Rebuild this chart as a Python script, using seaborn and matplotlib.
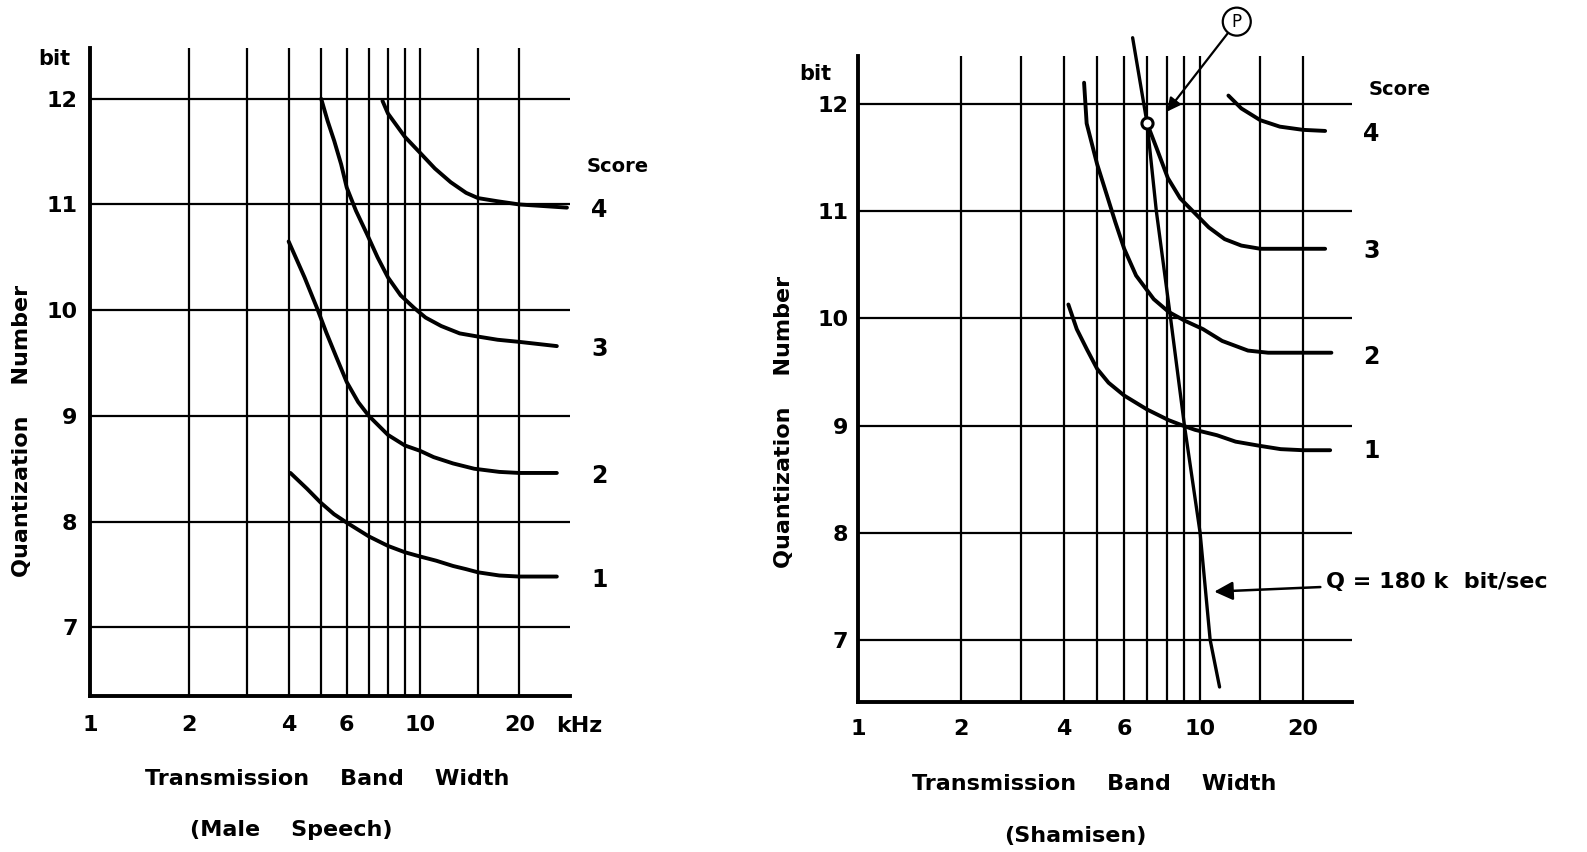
import numpy as np
import pandas as pd
import matplotlib
matplotlib.use("Agg")
import matplotlib.pyplot as plt
import seaborn as sns
from matplotlib.ticker import FixedLocator, FixedFormatter, NullLocator

# ---------------- data ----------------
# Left panel: Male Speech  (x = bandwidth kHz, y = quantization bits)
speech_s4_x = [7.7, 8.0, 9.0, 10.0, 11.1, 12.4, 13.8, 15.0, 17.2, 20.0, 27.9]
speech_s4_y = [11.98, 11.86, 11.64, 11.49, 11.34, 11.21, 11.11, 11.06, 11.03, 11.0, 10.97]
speech_s3_x = [5.02, 5.25, 5.5, 5.77, 6.0, 6.4, 6.91, 7.44, 8.0, 8.74, 9.61, 10.4, 11.6,
               13.2, 15.0, 17.2, 20.0, 26.0]
speech_s3_y = [12.0, 11.79, 11.6, 11.38, 11.16, 10.94, 10.72, 10.5, 10.31, 10.14, 10.02,
               9.93, 9.85, 9.78, 9.75, 9.72, 9.70, 9.66]
speech_s2_x = [4.0, 4.47, 4.89, 5.2, 5.59, 6.0, 6.5, 7.0, 8.0, 9.0, 10.0, 11.0, 12.6,
               14.6, 17.4, 20.0, 26.0]
speech_s2_y = [10.65, 10.31, 10.01, 9.79, 9.55, 9.32, 9.13, 9.0, 8.82, 8.72, 8.67, 8.61,
               8.55, 8.50, 8.47, 8.46, 8.46]
speech_s1_x = [4.05, 4.55, 5.0, 5.49, 6.0, 7.0, 8.0, 9.0, 10.0, 11.2, 12.6, 13.8, 15.0,
               17.4, 20.0, 26.0]
speech_s1_y = [8.46, 8.31, 8.18, 8.07, 7.99, 7.86, 7.77, 7.71, 7.67, 7.63, 7.58, 7.55, 7.52,
               7.49, 7.48, 7.48]

# Right panel: Shamisen
sham_s4_x = [12.1, 13.2, 15.0, 17.1, 20.0, 23.2]
sham_s4_y = [12.08, 11.96, 11.85, 11.79, 11.76, 11.75]
sham_s3_x = [7.0, 7.46, 8.05, 8.75, 9.6, 10.6, 11.8, 13.2, 15.0, 17.9, 23.2]
sham_s3_y = [11.82, 11.59, 11.31, 11.12, 10.99, 10.85, 10.74, 10.68, 10.65, 10.65, 10.65]
sham_s2_x = [4.58, 4.66, 5.0, 5.34, 5.65, 6.0, 6.5, 7.32, 8.1, 9.0, 10.2, 11.6, 13.8,
             15.8, 20.0, 24.2]
sham_s2_y = [12.20, 11.82, 11.44, 11.15, 10.90, 10.65, 10.40, 10.18, 10.06, 9.98, 9.90,
             9.79, 9.70, 9.68, 9.68, 9.68]
sham_s1_x = [4.12, 4.36, 4.67, 5.0, 5.4, 6.0, 7.0, 8.1, 8.9, 9.67, 11.2, 12.7, 15.0,
             17.2, 20.0, 24.0]
sham_s1_y = [10.13, 9.90, 9.71, 9.53, 9.40, 9.28, 9.15, 9.05, 9.0, 8.96, 8.91, 8.85,
             8.81, 8.78, 8.77, 8.77]

# Constant bit-rate line Q = 180 kbit/s (Shamisen panel)
q_line_x = [6.35, 7.0, 7.45, 8.2, 9.0, 10.0, 10.7, 11.4]
q_line_y = [12.62, 11.82, 11.0, 10.0, 9.0, 8.0, 7.0, 6.56]
point_p = (7.0, 11.82)

scores = [4, 3, 2, 1]
grid_x = [2, 3, 4, 5, 6, 7, 8, 9, 10, 15, 20]
grid_y = [7, 8, 9, 10, 11, 12]
tick_x = [1, 2, 4, 6, 10, 20]
tick_x_labels = ["1", "2", "4", "6", "10", "20"]
tick_y = [7, 8, 9, 10, 11, 12]
tick_y_labels = ["7", "8", "9", "10", "11", "12"]

# ---------------- style ----------------
sns.set_theme(style="white")
plt.rcParams["font.family"] = ["DejaVu Sans"]
plt.rcParams.update({"text.color": "black", "axes.labelcolor": "black",
                     "xtick.color": "black", "ytick.color": "black"})

fig = plt.figure(figsize=(15.87, 8.52), dpi=100)

W, H = 1587, 852
axL = fig.add_axes([90 / W, 1 - 696 / H, 480 / W, 648 / H])
axR = fig.add_axes([858 / W, 1 - 702 / H, 494 / W, (702 - 34.5) / H])


def frame(ax, xmax, ymin, ymax, vtop, xpad, ypad):
    ax.set_xscale("log")
    ax.set_xlim(1, xmax)
    ax.set_ylim(ymin, ymax)
    for s in ["top", "right"]:
        ax.spines[s].set_visible(False)
    for s in ["left", "bottom"]:
        ax.spines[s].set_color("black")
        ax.spines[s].set_linewidth(2.8)
    ax.spines["left"].set_bounds(ymin, vtop)
    ax.vlines(grid_x, ymin, vtop, color="black", lw=1.6, zorder=1)
    ax.hlines(grid_y, 1, xmax, color="black", lw=1.6, zorder=1)
    ax.xaxis.set_major_locator(FixedLocator(tick_x))
    ax.xaxis.set_major_formatter(FixedFormatter(tick_x_labels))
    ax.xaxis.set_minor_locator(NullLocator())
    ax.yaxis.set_major_locator(FixedLocator(tick_y))
    ax.yaxis.set_major_formatter(FixedFormatter(tick_y_labels))
    ax.tick_params(axis="x", length=0, pad=xpad, labelsize=16, colors="black")
    ax.tick_params(axis="y", length=0, pad=ypad, labelsize=16, colors="black")
    for lab in ax.get_xticklabels() + ax.get_yticklabels():
        lab.set_fontweight("bold")
    ax.grid(False)


def curves_df(xs, ys):
    rows = []
    for sc, x, y in zip(scores, xs, ys):
        for a, b in zip(x, y):
            rows.append({"bw": a, "bits": b, "score": sc})
    return pd.DataFrame(rows)


# ---------------- left panel ----------------
frame(axL, 28.5, 6.35, 12.48, 12.48, 14, 9)
dfL = curves_df([speech_s4_x, speech_s3_x, speech_s2_x, speech_s1_x],
                [speech_s4_y, speech_s3_y, speech_s2_y, speech_s1_y])
sns.lineplot(data=dfL, x="bw", y="bits", units="score", estimator=None, sort=False,
             color="black", lw=2.8, ax=axL, legend=False)
axL.set_xlabel("")
axL.set_ylabel("")
axL.text(32, 11.36, "Score", fontsize=14, fontweight="bold", ha="left", va="center", clip_on=False)
for sc, yv in zip(scores, [10.95, 9.63, 8.43, 7.45]):
    axL.text(33, yv, str(sc), fontsize=17, fontweight="bold", ha="left", va="center", clip_on=False)
axL.text(0.78, 12.38, "bit", fontsize=15, fontweight="bold", ha="center", va="center", clip_on=False)
axL.text(30.5, -0.046, "kHz", transform=axL.get_xaxis_transform(), fontsize=16,
         fontweight="bold", ha="center", va="center", clip_on=False)

# ---------------- right panel ----------------
frame(axR, 27.8, 6.42, 12.65, 12.45, 12, 7)
dfR = curves_df([sham_s4_x, sham_s3_x, sham_s2_x, sham_s1_x],
                [sham_s4_y, sham_s3_y, sham_s2_y, sham_s1_y])
sns.lineplot(data=dfR, x="bw", y="bits", units="score", estimator=None, sort=False,
             color="black", lw=2.8, ax=axR, legend=False)
sns.lineplot(x=q_line_x, y=q_line_y, sort=False, color="black", lw=2.4, ax=axR)
axR.set_xlabel("")
axR.set_ylabel("")
axR.plot([point_p[0]], [point_p[1]], "o", mfc="white", mec="black", ms=8, mew=2.2, zorder=5)
axR.annotate("P", xy=(8.0, 11.93), xytext=(12.8, 12.77), ha="center", va="center",
             fontsize=12, annotation_clip=False,
             bbox=dict(boxstyle="circle,pad=0.3", fc="white", ec="black", lw=1.6),
             arrowprops=dict(arrowstyle="-|>", color="black", lw=1.6, mutation_scale=20,
                             shrinkA=0, shrinkB=0))
axR.annotate("Q = 180 k  bit/sec", xy=(11.0, 7.45), xytext=(23.4, 7.54), ha="left",
             va="center", fontsize=16, fontweight="bold", annotation_clip=False,
             arrowprops=dict(arrowstyle="-|>", color="black", lw=1.8, mutation_scale=28,
                             shrinkA=2, shrinkB=0))
axR.text(31, 12.14, "Score", fontsize=14, fontweight="bold", ha="left", va="center", clip_on=False)
for sc, yv in zip(scores, [11.72, 10.63, 9.64, 8.76]):
    axR.text(30, yv, str(sc), fontsize=17, fontweight="bold", ha="left", va="center", clip_on=False)
axR.text(0.75, 12.28, "bit", fontsize=15, fontweight="bold", ha="center", va="center", clip_on=False)

# ---------------- axis titles ----------------
fig.text(327 / W, 1 - 779 / H, "Transmission    Band    Width", fontsize=16, fontweight="bold",
         ha="center", va="center")
fig.text(291 / W, 1 - 830 / H, "(Male    Speech)", fontsize=16, fontweight="bold",
         ha="center", va="center")
fig.text(1094 / W, 1 - 784 / H, "Transmission    Band    Width", fontsize=16, fontweight="bold",
         ha="center", va="center")
fig.text(1075 / W, 1 - 836 / H, "(Shamisen)", fontsize=16, fontweight="bold",
         ha="center", va="center")
fig.text(22 / W, 1 - 431 / H, "Quantization    Number", fontsize=16, fontweight="bold",
         rotation=90, ha="center", va="center")
fig.text(784 / W, 1 - 422 / H, "Quantization    Number", fontsize=16, fontweight="bold",
         rotation=90, ha="center", va="center")

fig.savefig("out.png", dpi=100, facecolor="white")
